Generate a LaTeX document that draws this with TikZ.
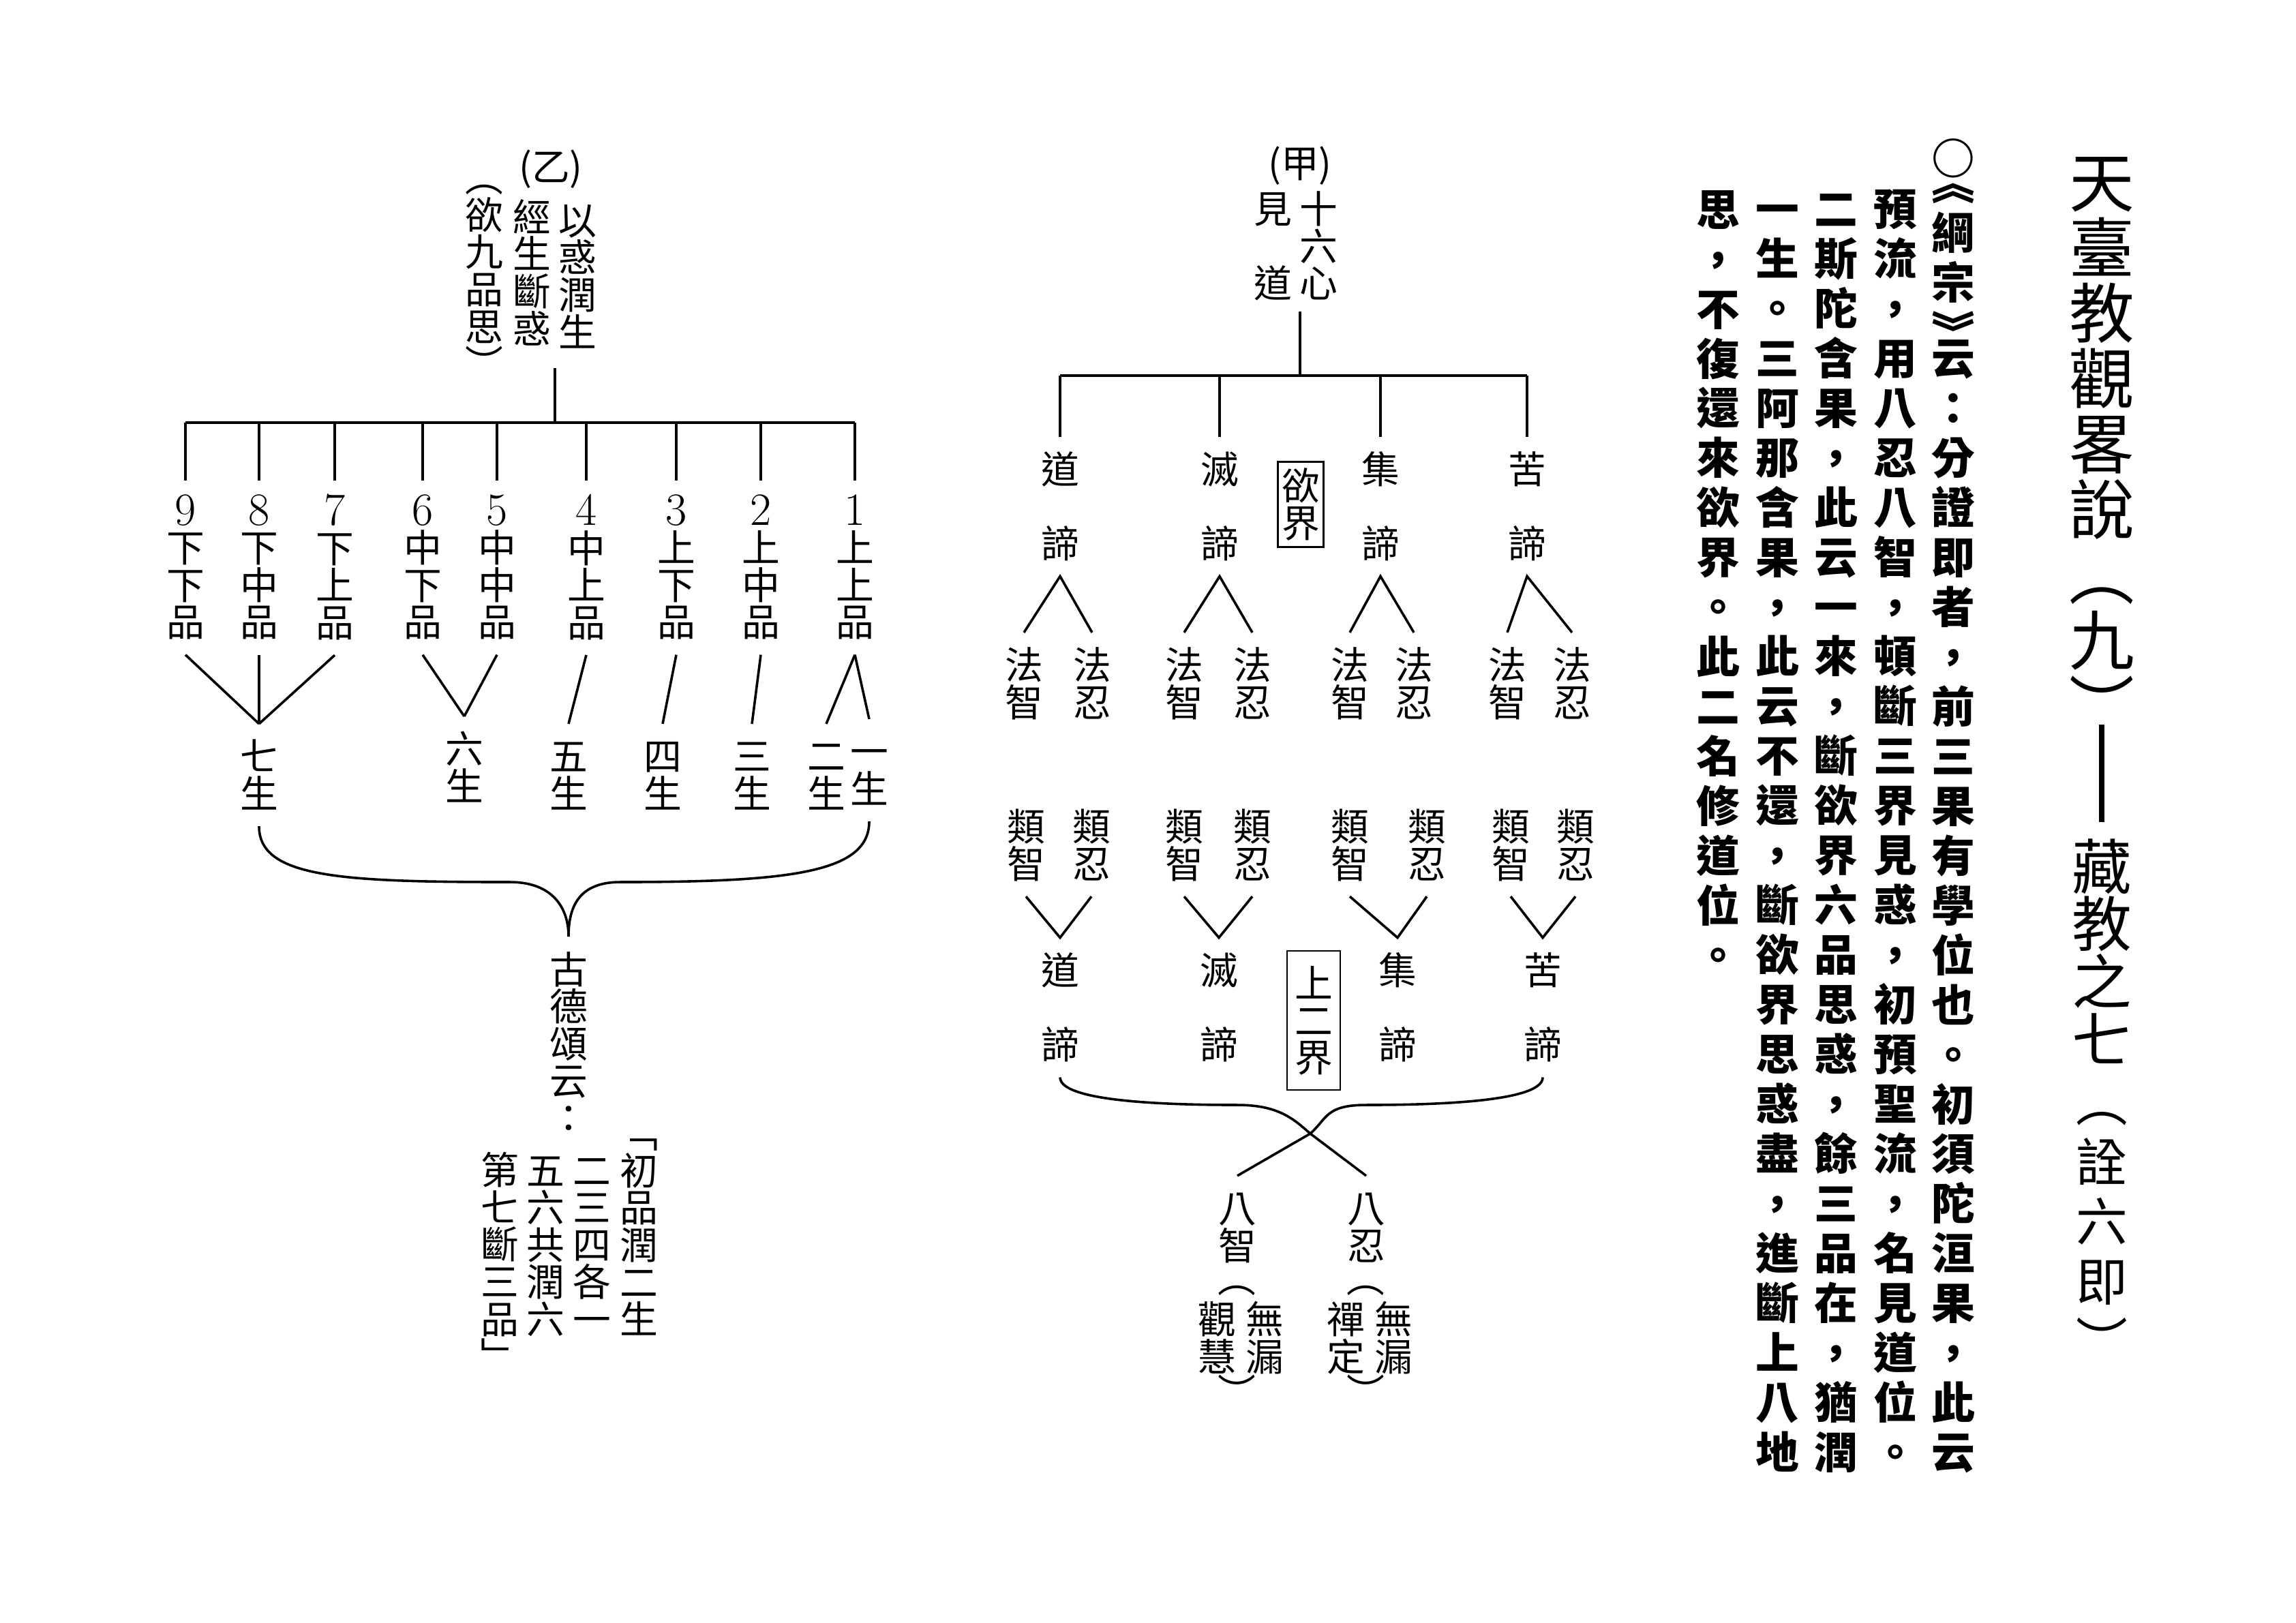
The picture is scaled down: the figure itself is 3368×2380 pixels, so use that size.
\documentclass[tikz,border=0pt]{standalone}
\usepackage{fontspec}
\usepackage{tikz}
\newfontfamily\cjk{Noto Sans CJK TC}
\lineskiplimit=-50pt
% one character per line, every line the same height
\def\vcolend{vcolend}
\def\vsp{}
\def\vstrut{\rule[-.12em]{0pt}{1em}}
\newcommand\vcol[1]{\def\vcolacc{}\vcolscan#1\vcolend\vcolacc}
\def\vcolscan#1{%
  \ifx#1\vcolend
  \else
    \ifx\vcolacc\empty
      \def\vcolacc{#1\vstrut}%
    \else
      \expandafter\def\expandafter\vcolacc\expandafter{\vcolacc\\#1\vstrut}%
    \fi
    \expandafter\vcolscan
  \fi}
\def\lmd{\rmfamily\fontsize{17}{17}\selectfont}
\tikzstyle{lbl} = [inner sep=0pt, outer sep=5pt, align=center, font=\cjk\fontsize{14}{13.7}\selectfont]
\tikzstyle{jie} = [lbl, draw, outer sep=0pt, line width=0.6pt]
\tikzstyle{wen} = [inner sep=0pt, align=center, font=\cjk\bfseries\fontsize{16}{18.3}\selectfont]
\tikzstyle{ti} = [inner sep=0pt, align=center, font=\cjk\fontsize{24}{24.1}\selectfont]

\begin{document}
\begin{tikzpicture}[x=0.08818mm, y=-0.08818mm, line width=0.9pt]
\useasboundingbox (0,0) rectangle (3368,2380);
% title
\node [ti] (T1) at (3083, 651) {\vcol{天臺教觀畧說︵九︶}};
\coordinate (D1) at (3083, 1063);
\coordinate (D2) at (3083, 1206);
\draw [line width=2.2pt] (D1) -- (D2);
\node [ti, font=\cjk\fontsize{22}{21.3}\selectfont] (T2) at (3083, 1398) {\vcol{藏教之七}};
\node [ti, font=\cjk\fontsize{19}{22}\selectfont] (T3) at (3083, 1792) {\vcol{︵詮六即︶}};

% text
\node [wen] (K0) at (2865, 232) {○};
\node [wen] (K1a) at (2865, 390) {︽\\綱\\宗\\︾};
\node [wen] (K1b) at (2865, 1328) {\vcol{云：分證即者，前三果有學位也。初須陀洹果，此云}};
\node [wen] (K2) at (2780, 1218) {\vcol{預流，用八忍八智，頓斷三界見惑，初預聖流，名見道位。}};
\node [wen] (K3) at (2693, 1218) {\vcol{二斯陀含果，此云一來，斷欲界六品思惑，餘三品在，猶潤}};
\node [wen] (K4) at (2607, 1218) {\vcol{一生。三阿那含果，此云不還，斷欲界思惑盡，進斷上八地}};
\node [wen] (K5) at (2520, 854) {\vcol{思，不復還來欲界。此二名修道位。}};

% (甲) 見道十六心
\node [lbl] (JIA) at (1907, 243) {(甲)};
\node [lbl] (SL) at (1934, 361) {\vcol{十六心}};
\node [lbl] (JD) at (1867, 361) {\vcol{見 \vsp 道}};
\coordinate (JT) at (1907, 457);
\coordinate (JB) at (1907, 551);
\node [lbl] (U1) at (1555, 743) {\vcol{道 \vsp 諦}};
\node [lbl] (U2) at (1789, 743) {\vcol{滅 \vsp 諦}};
\node [lbl] (U3) at (2025, 743) {\vcol{集 \vsp 諦}};
\node [lbl] (U4) at (2240, 743) {\vcol{苦 \vsp 諦}};
\node [jie, inner xsep=1.4pt, inner ysep=1.8pt] (YJ) at (1908, 740) {\vcol{欲界}};
\draw (JT) -- (JB);
\draw (U1.north |- JB) -- (U4.north |- JB);
\draw (U1.north |- JB) -- (U1.north);
\draw (U2.north |- JB) -- (U2.north);
\draw (U3.north |- JB) -- (U3.north);
\draw (U4.north |- JB) -- (U4.north);

\node [lbl] (FZ1) at (1502, 1003) {\vcol{法智}};
\node [lbl] (FR1) at (1602, 1003) {\vcol{法忍}};
\node [lbl] (FZ2) at (1737, 1003) {\vcol{法智}};
\node [lbl] (FR2) at (1837, 1003) {\vcol{法忍}};
\node [lbl] (FZ3) at (1980, 1003) {\vcol{法智}};
\node [lbl] (FR3) at (2074, 1003) {\vcol{法忍}};
\node [lbl] (FZ4) at (2211, 1003) {\vcol{法智}};
\node [lbl] (FR4) at (2306, 1003) {\vcol{法忍}};
\draw (FZ1.north) -- (U1.south) -- (FR1.north);
\draw (FZ2.north) -- (U2.south) -- (FR2.north);
\draw (FZ3.north) -- (U3.south) -- (FR3.north);
\draw (FZ4.north) -- (U4.south) -- (FR4.north);

\node [lbl] (LZ1) at (1505, 1240) {\vcol{類智}};
\node [lbl] (LR1) at (1601, 1240) {\vcol{類忍}};
\node [lbl] (LZ2) at (1737, 1240) {\vcol{類智}};
\node [lbl] (LR2) at (1837, 1240) {\vcol{類忍}};
\node [lbl] (LZ3) at (1980, 1240) {\vcol{類智}};
\node [lbl] (LR3) at (2093, 1240) {\vcol{類忍}};
\node [lbl] (LZ4) at (2216, 1240) {\vcol{類智}};
\node [lbl] (LR4) at (2311, 1240) {\vcol{類忍}};
\node [lbl] (B1) at (1555, 1478) {\vcol{道 \vsp 諦}};
\node [lbl] (B2) at (1788, 1478) {\vcol{滅 \vsp 諦}};
\node [lbl] (B3) at (2050, 1478) {\vcol{集 \vsp 諦}};
\node [lbl] (B4) at (2263, 1478) {\vcol{苦 \vsp 諦}};
\node [jie, inner xsep=2.75pt, inner ysep=4.9pt] (SJ) at (1927, 1497) {\vcol{上二界}};
\draw (LZ1.south) -- (B1.north) -- (LR1.south);
\draw (LZ2.south) -- (B2.north) -- (LR2.south);
\draw (LZ3.south) -- (B3.north) -- (LR3.south);
\draw (LZ4.south) -- (B4.north) -- (LR4.south);

\coordinate (BL2) at (1815, 1621);
\coordinate (BR2) at (2004, 1621);
\coordinate (TIP) at (1922, 1663);
\draw (B1.south) .. controls +(0,30) and +(-150,0) .. (BL2) .. controls +(60,0) and +(-25,-22) .. (TIP);
\draw (B4.south) .. controls +(0,30) and +(150,0) .. (BR2) .. controls +(-60,0) and +(25,-22) .. (TIP);
\node [lbl] (BZ) at (1815, 1800) {\vcol{八智}};
\node [lbl] (BN) at (2004, 1800) {\vcol{八忍}};
\draw (TIP) -- (BZ.north);
\draw (TIP) -- (BN.north);
\node [lbl] (Q1a) at (1814, 1893) {︵};
\node [lbl] (Q1b) at (1855, 1963) {\vcol{無漏}};
\node [lbl] (Q1c) at (1785, 1963) {\vcol{觀慧}};
\node [lbl] (Q1d) at (1814, 2040) {︶};
\node [lbl] (Q2a) at (2003, 1893) {︵};
\node [lbl] (Q2b) at (2044, 1963) {\vcol{無漏}};
\node [lbl] (Q2c) at (1974, 1963) {\vcol{禪定}};
\node [lbl] (Q2d) at (2003, 2040) {︶};

% (乙) 以惑潤生
\node [lbl] (YI) at (808, 248) {(乙)};
\node [lbl] (RS) at (847, 405) {\vcol{以惑潤生}};
\node [lbl] (JS) at (780, 400) {\vcol{經生斷惑}};
\node [lbl] (YP) at (710, 397) {\vcol{︵欲九品思︶}};
\coordinate (YT) at (814, 540);
\coordinate (YB) at (814, 620);
\node [lbl] (L9) at (272, 833) {{\lmd 9}\\\vcol{下下品}};
\node [lbl] (L8) at (380, 833) {{\lmd 8}\\\vcol{下中品}};
\node [lbl] (L7) at (491, 833) {{\lmd 7}\\\vcol{下上品}};
\node [lbl] (L6) at (620, 833) {{\lmd 6}\\\vcol{中下品}};
\node [lbl] (L5) at (729, 833) {{\lmd 5}\\\vcol{中中品}};
\node [lbl] (L4) at (860, 833) {{\lmd 4}\\\vcol{中上品}};
\node [lbl] (L3) at (992, 833) {{\lmd 3}\\\vcol{上下品}};
\node [lbl] (L2) at (1116, 833) {{\lmd 2}\\\vcol{上中品}};
\node [lbl] (L1) at (1254, 833) {{\lmd 1}\\\vcol{上上品}};
\draw (YT) -- (YB);
\draw (L9.north |- YB) -- (L1.north |- YB);
\draw (L9.north |- YB) -- (L9.north);
\draw (L8.north |- YB) -- (L8.north);
\draw (L7.north |- YB) -- (L7.north);
\draw (L6.north |- YB) -- (L6.north);
\draw (L5.north |- YB) -- (L5.north);
\draw (L4.north |- YB) -- (L4.north);
\draw (L3.north |- YB) -- (L3.north);
\draw (L2.north |- YB) -- (L2.north);
\draw (L1.north |- YB) -- (L1.north);

\node [lbl] (S7) at (380, 1137) {\vcol{七生}};
\node [lbl] (S6) at (681, 1126) {\vcol{六生}};
\node [lbl] (S5) at (834, 1137) {\vcol{五生}};
\node [lbl] (S4) at (972, 1137) {\vcol{四生}};
\node [lbl] (S3) at (1103, 1137) {\vcol{三生}};
\node [lbl] (S2) at (1212, 1137) {\vcol{二生}};
\node [lbl] (S1) at (1275, 1130) {\vcol{一生}};
\draw (L9.south) -- (S7.north);
\draw (L8.south) -- (S7.north);
\draw (L7.south) -- (S7.north);
\draw (L6.south) -- (S6.north);
\draw (L5.south) -- (S6.north);
\draw (L4.south) -- (S5.north);
\draw (L3.south) -- (S4.north);
\draw (L2.south) -- (S3.north);
\draw (L1.south) -- (S2.north);
\draw (L1.south) -- (S1.north);

\node [lbl] (GD) at (834, 1531) {\vcol{古德頌云：}};
\coordinate (BL) at (748, 1294);
\coordinate (BR) at (910, 1294);
\draw (S7.south) .. controls +(0,75) and +(-250,0) .. (BL) .. controls +(60,0) and +(0,-45) .. (GD.north)
  .. controls +(0,-45) and +(-60,0) .. (BR) .. controls +(250,0) and +(0,75) .. (S1.south);
\node [lbl] (P1) at (937, 1799) {\vcol{﹁初品潤二生}};
\node [lbl] (P2) at (868, 1826) {\vcol{二三四各一}};
\node [lbl] (P3) at (800, 1826) {\vcol{五六共潤六}};
\node [lbl] (P4) at (733, 1853) {\vcol{第七斷三品﹂}};
\end{tikzpicture}
\end{document}
